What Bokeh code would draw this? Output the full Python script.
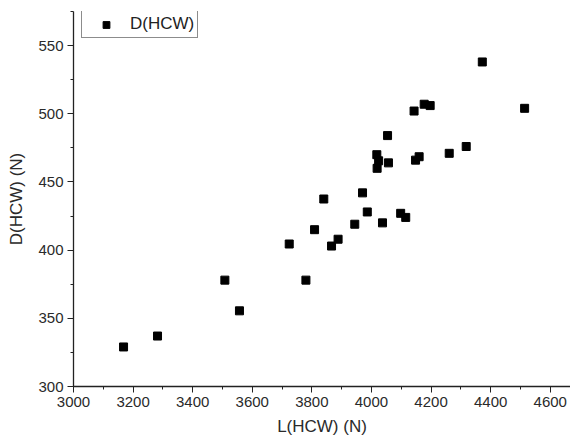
from bokeh.plotting import figure
from bokeh.embed import file_html
from bokeh.resources import INLINE
from bokeh.models import Range1d, SingleIntervalTicker, Legend, LegendItem, ColumnDataSource

# Data
l_hcw = [3168, 3282, 3508, 3557, 3724, 3780, 3809, 3840, 3866, 3888,
         3944, 3970, 3986, 4018, 4024, 4019, 4037, 4054, 4057, 4098,
         4115, 4143, 4148, 4160, 4177, 4197, 4261, 4318, 4372, 4514]
d_hcw = [329, 337, 378, 355.5, 404.5, 378, 415, 437.5, 403, 408,
         419, 442, 428, 470, 465.5, 460, 420, 484, 464, 427,
         424, 502, 466, 468.5, 507, 506, 471, 476, 538, 504]
series_name = "D(HCW)"
x_title = "L(HCW) (N)"
y_title = "D(HCW) (N)"

FONT = "Liberation Sans"

p = figure(width=570, height=440, output_backend="svg", toolbar_location=None,
           x_range=Range1d(3000, 4668), y_range=Range1d(300, 575),
           min_border_left=73, min_border_right=0, min_border_top=11, min_border_bottom=54)
p.outline_line_color = None
p.grid.visible = False
p.background_fill_color = "white"

src = ColumnDataSource(dict(x=l_hcw, y=d_hcw))
r = p.scatter("x", "y", source=src, marker="square", size=8, fill_color="black", line_color="black")

for ax in (p.xaxis[0], p.yaxis[0]):
    ax.axis_line_color = "#222222"
    ax.axis_line_width = 1.3
    ax.major_tick_line_color = "#222222"
    ax.minor_tick_line_color = "#222222"
    ax.major_tick_in = 0
    ax.major_tick_out = 6
    ax.minor_tick_in = 0
    ax.minor_tick_out = 3
    ax.major_label_text_font = FONT
    ax.major_label_text_font_size = "15px"
    ax.major_label_text_color = "#2a2a2a"
    ax.axis_label_text_font = FONT
    ax.axis_label_text_font_size = "17px"
    ax.axis_label_text_font_style = "normal"
    ax.axis_label_text_color = "#2a2a2a"

p.xaxis.ticker = SingleIntervalTicker(interval=200, num_minor_ticks=2)
p.yaxis.ticker = SingleIntervalTicker(interval=50, num_minor_ticks=2)
p.xaxis.axis_label = x_title
p.yaxis.axis_label = y_title
p.xaxis.major_label_standoff = 4
p.yaxis.major_label_standoff = 4
p.xaxis.axis_label_standoff = 7
p.yaxis.axis_label_standoff = 9

legend = Legend(items=[LegendItem(label=series_name, renderers=[r])],
                location=(8, 348), padding=3, margin=0, spacing=0,
                glyph_width=42, glyph_height=17, label_height=17, label_standoff=3,
                label_text_font=FONT, label_text_font_size="17px",
                label_text_color="#222222",
                border_line_color="#8c8c8c", border_line_width=1.5,
                border_line_alpha=1.0,
                background_fill_color="white", background_fill_alpha=1)
p.add_layout(legend)

open("out.html", "w").write(file_html(p, INLINE))
